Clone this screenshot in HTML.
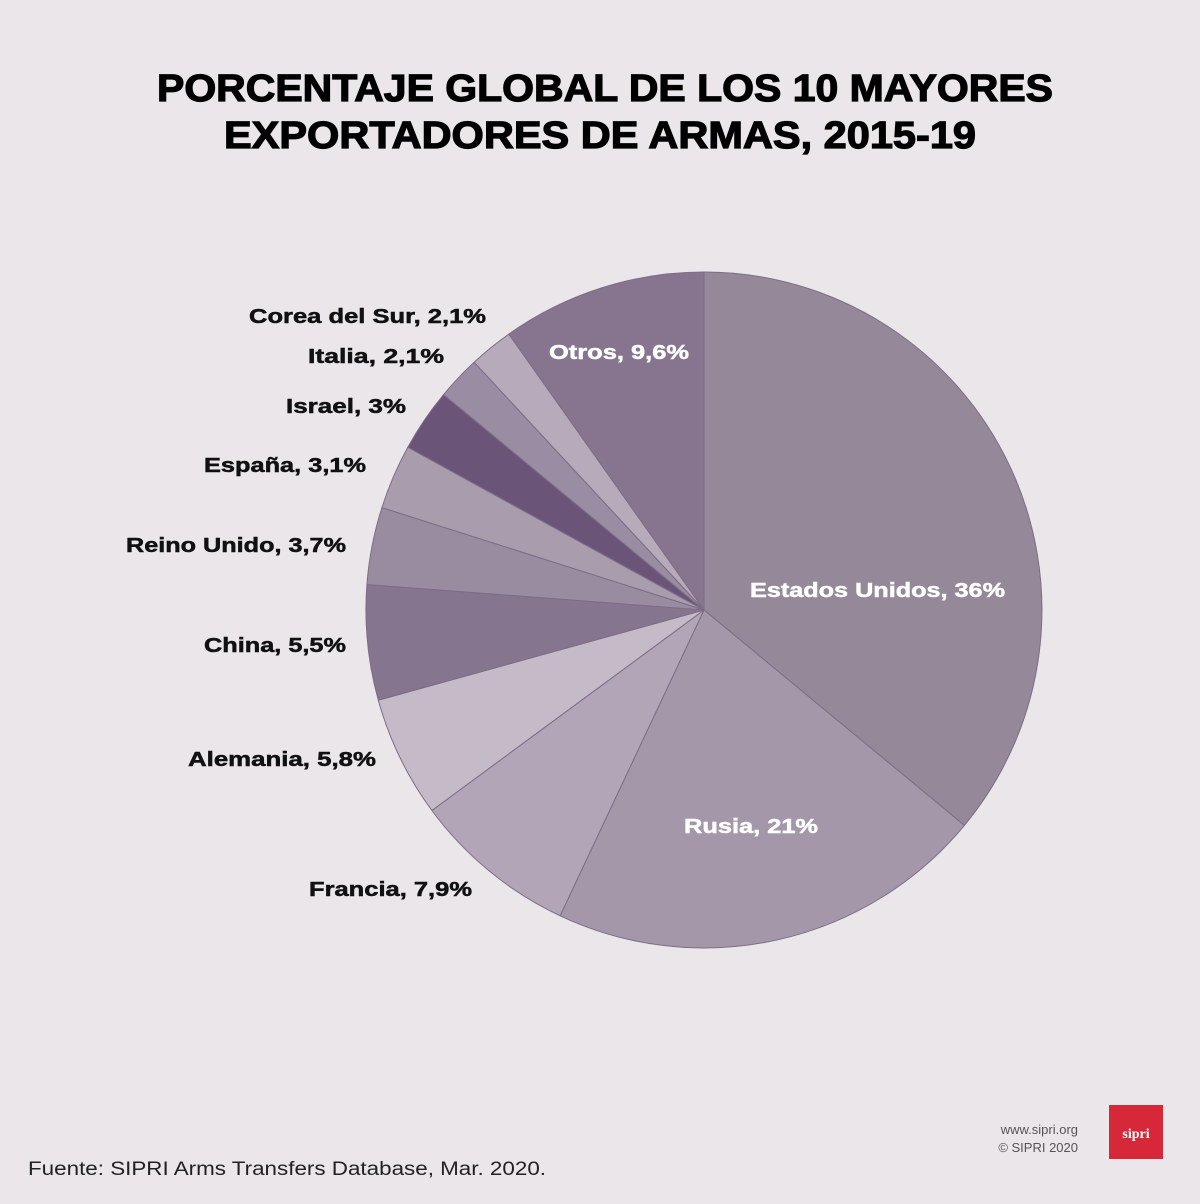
<!DOCTYPE html>
<html><head><meta charset="utf-8"><style>
html,body{margin:0;padding:0;background:#ebe6ea;}
svg{display:block}
text{font-family:"Liberation Sans",Arial,sans-serif;font-weight:bold}
</style></head><body>
<svg width="1200" height="1204" viewBox="0 0 1200 1204" xmlns="http://www.w3.org/2000/svg">
<rect width="1200" height="1204" fill="#ebe6ea"/>
<g stroke="#000" stroke-width="1.2">
<text x="605" y="101" font-size="38" text-anchor="middle" textLength="896" lengthAdjust="spacingAndGlyphs">PORCENTAJE GLOBAL DE LOS 10 MAYORES</text>
<text x="600" y="148" font-size="38" text-anchor="middle" textLength="752" lengthAdjust="spacingAndGlyphs">EXPORTADORES DE ARMAS, 2015-19</text>
</g>
<g stroke="#7d6d86" stroke-width="1" stroke-linejoin="round">
<path d="M704 610 L704 272 A338 338 0 0 1 964.4 825.4Z" fill="#958899"/>
<path d="M704 610 L964.4 825.4 A338 338 0 0 1 560.1 915.8Z" fill="#a597aa"/>
<path d="M704 610 L560.1 915.8 A338 338 0 0 1 431.9 810.5Z" fill="#b2a5b7"/>
<path d="M704 610 L431.9 810.5 A338 338 0 0 1 378.3 700.2Z" fill="#c5bac8"/>
<path d="M704 610 L378.3 700.2 A338 338 0 0 1 366.9 584.5Z" fill="#86758f"/>
<path d="M704 610 L366.9 584.5 A338 338 0 0 1 381.9 507.6Z" fill="#9a8ca0"/>
<path d="M704 610 L381.9 507.6 A338 338 0 0 1 407.8 447.2Z" fill="#a99cad"/>
<path d="M704 610 L407.8 447.2 A338 338 0 0 1 443.6 394.6Z" fill="#6a5478"/>
<path d="M704 610 L443.6 394.6 A338 338 0 0 1 474.1 362.2Z" fill="#9a8ca2"/>
<path d="M704 610 L474.1 362.2 A338 338 0 0 1 508.8 334.1Z" fill="#b7abbb"/>
<path d="M704 610 L508.8 334.1 A338 338 0 0 1 704 272Z" fill="#877590"/>
</g>
<g font-size="20" fill="#fff" stroke="#fff" stroke-width="0.5">
<text x="549" y="359" textLength="140" lengthAdjust="spacingAndGlyphs">Otros, 9,6%</text>
<text x="750" y="597" textLength="255" lengthAdjust="spacingAndGlyphs">Estados Unidos, 36%</text>
<text x="684" y="833" textLength="134" lengthAdjust="spacingAndGlyphs">Rusia, 21%</text>
</g>
<g font-size="20" fill="#111" stroke="#111" stroke-width="0.5" text-anchor="end">
<text x="486" y="323" textLength="237" lengthAdjust="spacingAndGlyphs">Corea del Sur, 2,1%</text>
<text x="444" y="363" textLength="136" lengthAdjust="spacingAndGlyphs">Italia, 2,1%</text>
<text x="406" y="413" textLength="120" lengthAdjust="spacingAndGlyphs">Israel, 3%</text>
<text x="366" y="472" textLength="162" lengthAdjust="spacingAndGlyphs">España, 3,1%</text>
<text x="346" y="552" textLength="220" lengthAdjust="spacingAndGlyphs">Reino Unido, 3,7%</text>
<text x="346" y="652" textLength="142" lengthAdjust="spacingAndGlyphs">China, 5,5%</text>
<text x="376" y="766" textLength="188" lengthAdjust="spacingAndGlyphs">Alemania, 5,8%</text>
<text x="472" y="896" textLength="163" lengthAdjust="spacingAndGlyphs">Francia, 7,9%</text>
</g>
<text x="1078" y="1134" font-size="13" fill="#555" text-anchor="end" style="font-weight:normal">www.sipri.org</text>
<text x="1078" y="1152" font-size="13" fill="#555" text-anchor="end" style="font-weight:normal">© SIPRI 2020</text>
<rect x="1109" y="1105" width="54" height="54" fill="#d7283a"/>
<text x="1136" y="1138" font-size="14" fill="#fff" text-anchor="middle" style="font-family:'Liberation Serif',serif">sipri</text>
<text x="28" y="1175" font-size="19" fill="#222" style="font-weight:normal" textLength="518" lengthAdjust="spacingAndGlyphs">Fuente: SIPRI Arms Transfers Database, Mar. 2020.</text>
</svg>
</body></html>
